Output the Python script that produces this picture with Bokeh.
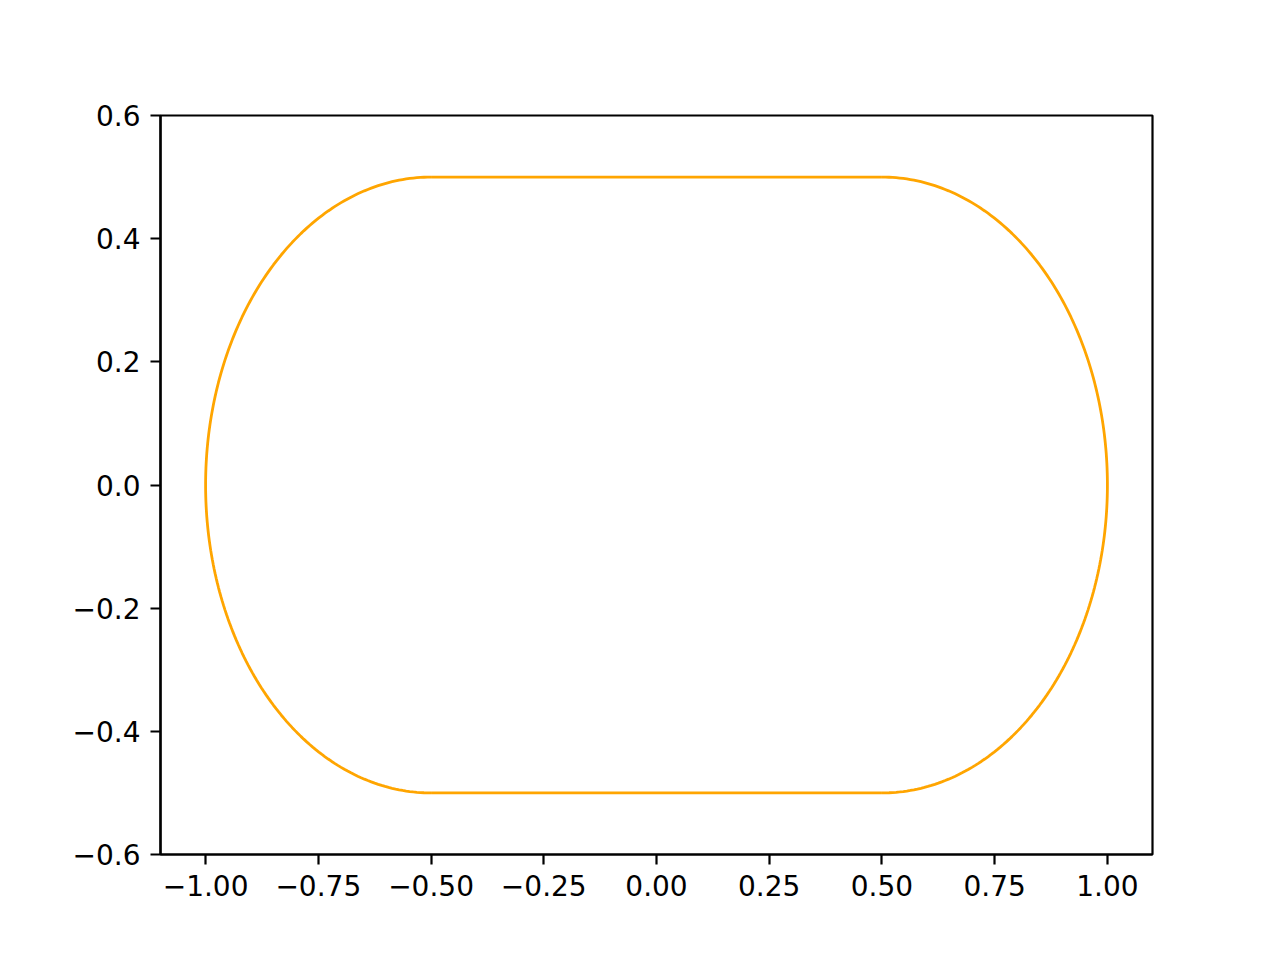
import numpy as np
from bokeh.plotting import figure
from bokeh.models import FixedTicker, Range1d
from bokeh.embed import file_html
from bokeh.resources import INLINE

# Shape description: two half-ellipse arcs joined by two straight edges
arc_cx = [-0.5, 0.5]
arc_cy = [0.0, 0.0]
arc_rx = [0.5, 0.5]
arc_ry = [0.5, 0.5]
arc_start_deg = [90, -90]
arc_end_deg = [270, 90]

edge_x0 = [-0.5, -0.5]
edge_x1 = [0.5, 0.5]
edge_y = [0.5, -0.5]

x_ticks = [-1.0, -0.75, -0.5, -0.25, 0.0, 0.25, 0.5, 0.75, 1.0]
x_tick_labels = ["\u22121.00", "\u22120.75", "\u22120.50", "\u22120.25", "0.00", "0.25", "0.50", "0.75", "1.00"]
y_ticks = [-0.6, -0.4, -0.2, 0.0, 0.2, 0.4, 0.6]
y_tick_labels = ["\u22120.6", "\u22120.4", "\u22120.2", "0.0", "0.2", "0.4", "0.6"]

p = figure(width=1264, height=944, output_backend="svg", toolbar_location=None,
           x_range=Range1d(-1.1, 1.1), y_range=Range1d(-0.6, 0.6),
           min_border_left=160, min_border_right=112, min_border_top=115, min_border_bottom=90)
p.background_fill_color = "white"
p.border_fill_color = "white"
p.grid.visible = False
p.outline_line_color = "black"
p.outline_line_width = 2.2
p.outline_line_alpha = 1.0

orange = "#FFA500"
arc_xs, arc_ys = [], []
for cx, cy, rx, ry, a0, a1 in zip(arc_cx, arc_cy, arc_rx, arc_ry, arc_start_deg, arc_end_deg):
    t = np.deg2rad(np.linspace(a0, a1, 200))
    arc_xs.append(list(cx + rx * np.cos(t)))
    arc_ys.append(list(cy + ry * np.sin(t)))
p.multi_line(arc_xs, arc_ys, line_color=orange, line_width=2.8)

p.multi_line([[a, b] for a, b in zip(edge_x0, edge_x1)], [[y, y] for y in edge_y],
             line_color=orange, line_width=2.8)

for ax, ticks, labels in ((p.xaxis[0], x_ticks, x_tick_labels), (p.yaxis[0], y_ticks, y_tick_labels)):
    ax.ticker = FixedTicker(ticks=ticks)
    ax.major_label_overrides = {t: l for t, l in zip(ticks, labels)}
    ax.minor_tick_line_color = None
    ax.major_tick_in = 0
    ax.major_tick_out = 10
    ax.major_tick_line_width = 2.2
    ax.axis_line_width = 2.2
    ax.major_label_text_font = "DejaVu Sans"
    ax.major_label_text_font_size = "28px"
    ax.major_label_text_color = "black"
    ax.major_label_standoff = 10

open("out.html", "w").write(file_html(p, INLINE))
